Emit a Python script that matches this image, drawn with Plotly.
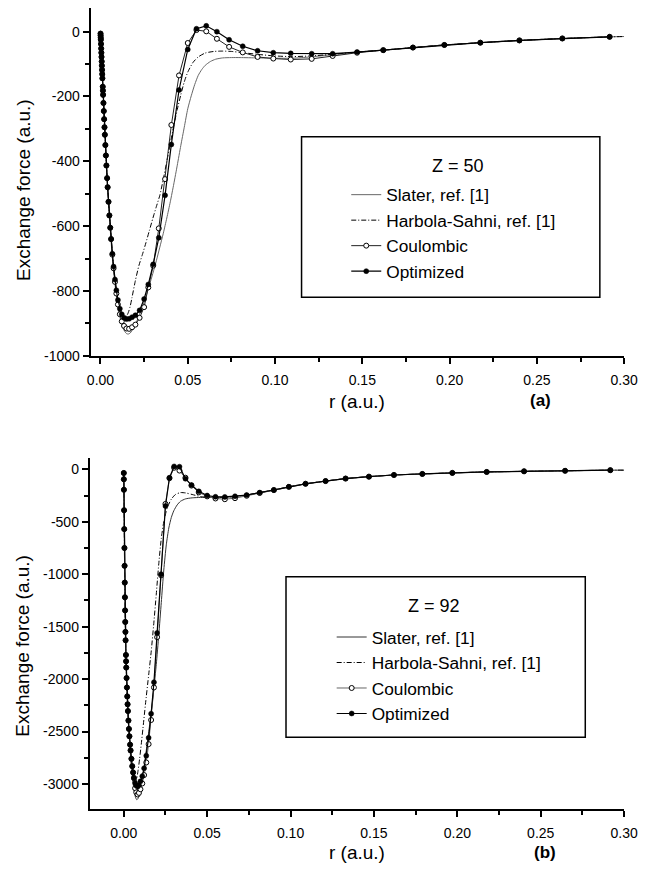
import plotly.graph_objects as go

# ---------------- data: Z = 50 (panel a) ----------------
r50_slater = [0.0, 0.0005, 0.001, 0.0015, 0.002, 0.003, 0.004, 0.005, 0.006, 0.007, 0.008, 0.009,
              0.010, 0.011, 0.012, 0.013, 0.014, 0.015, 0.016, 0.017, 0.018, 0.019, 0.020, 0.022,
              0.024, 0.026, 0.028, 0.030, 0.032, 0.034, 0.036, 0.038, 0.040, 0.042, 0.044, 0.046,
              0.048, 0.050, 0.052, 0.054, 0.056, 0.058, 0.060, 0.063, 0.066, 0.070, 0.075, 0.080,
              0.090, 0.100, 0.110, 0.120, 0.133, 0.147, 0.162, 0.179, 0.197, 0.218, 0.240, 0.265,
              0.292, 0.300]
f50_slater = [-5, -67, -132, -196, -258, -372, -475, -565, -642, -710, -765, -810,
              -848, -877, -900, -916, -926, -932, -933, -930, -923, -914, -903, -878,
              -850, -818, -783, -746, -707, -665, -622, -575, -525, -470, -412, -352,
              -295, -238, -198, -163, -135, -117, -104, -92, -85, -81, -80, -80,
              -81, -82, -82, -78, -71, -63, -57, -49, -41, -34, -27, -21,
              -16, -15]

r50_hs = [0.0, 0.0005, 0.001, 0.0015, 0.002, 0.003, 0.004, 0.005, 0.006, 0.007, 0.008, 0.009,
          0.010, 0.011, 0.012, 0.013, 0.014, 0.015, 0.016, 0.017, 0.018, 0.020, 0.022, 0.024,
          0.026, 0.028, 0.030, 0.032, 0.034, 0.036, 0.038, 0.040, 0.042, 0.044, 0.046, 0.048,
          0.050, 0.053, 0.056, 0.060, 0.065, 0.070, 0.075, 0.080, 0.090, 0.100, 0.110, 0.120,
          0.133, 0.147, 0.162, 0.179, 0.197, 0.218, 0.240, 0.265, 0.292, 0.300]
f50_hs = [-5, -67, -132, -195, -256, -368, -468, -555, -630, -695, -750, -795,
          -830, -855, -870, -878, -880, -877, -866, -848, -822, -768, -722, -688,
          -652, -614, -576, -540, -505, -455, -400, -345, -290, -240, -195, -155,
          -125, -95, -78, -66, -61, -60, -61, -64, -70, -75, -77, -75,
          -70, -63, -57, -49, -41, -34, -27, -21, -16, -15]

r50_grid = [0.00003, 0.00008, 0.00014, 0.0002, 0.0003, 0.0004, 0.0005, 0.0006, 0.0007, 0.0008,
            0.0009, 0.0010, 0.0011, 0.0013, 0.0014, 0.0015, 0.0017, 0.0019, 0.0021, 0.0023,
            0.0025, 0.0028, 0.0031, 0.0034, 0.0038, 0.0041, 0.0046, 0.0051, 0.0056, 0.0061,
            0.0068, 0.0075, 0.0083, 0.0091, 0.0100, 0.0111, 0.0122, 0.0135, 0.0149, 0.0164,
            0.0181, 0.0200, 0.0224, 0.0250, 0.0274, 0.0302, 0.0334, 0.0370, 0.0406, 0.0450,
            0.0500, 0.0550, 0.0606, 0.0667, 0.0737, 0.0815, 0.0900, 0.0990, 0.1090, 0.1210,
            0.1330, 0.1470, 0.1620, 0.1790, 0.1970, 0.2176, 0.2400, 0.2646, 0.2917]
f50_coul = [-6, -12, -19, -25, -38, -52, -65, -78, -92, -105,
            -118, -131, -144, -170, -182, -195, -220, -245, -270, -295,
            -318, -350, -382, -413, -452, -480, -525, -567, -605, -640,
            -688, -730, -772, -808, -842, -872, -894, -908, -916, -917,
            -912, -904, -883, -850, -789, -722, -607, -455, -288, -135,
            -35, 5, 1, -22, -47, -64, -78, -83, -86, -84,
            -75, -65, -57, -49, -41, -34, -27, -21, -16]
f50_opt = [-6, -12, -19, -25, -38, -52, -65, -78, -92, -105,
           -118, -131, -144, -170, -182, -195, -220, -245, -270, -295,
           -318, -350, -382, -413, -452, -480, -525, -567, -605, -640,
           -685, -725, -765, -798, -828, -855, -872, -883, -887, -886,
           -881, -875, -860, -825, -780, -718, -636, -505, -348, -180,
           -55, 9, 18, 0, -25, -45, -59, -65, -67, -68,
           -68, -63, -57, -49, -41, -34, -27, -21, -16]

# ---------------- data: Z = 92 (panel b) ----------------
r92_slater = [0.0, 0.0005, 0.001, 0.0015, 0.002, 0.003, 0.004, 0.005, 0.006, 0.007, 0.0078, 0.0085,
              0.0095, 0.0105, 0.0115, 0.0125, 0.0135, 0.015, 0.0165, 0.018, 0.0195, 0.021, 0.0225,
              0.024, 0.0255, 0.027, 0.0285, 0.030, 0.032, 0.034, 0.037, 0.041, 0.046, 0.052,
              0.0606, 0.0667, 0.0737, 0.0815, 0.0900, 0.0990, 0.1090, 0.1210, 0.1330, 0.1470,
              0.1620, 0.1790, 0.1970, 0.2176, 0.2400, 0.2646, 0.2917, 0.300]
f92_slater = [-30, -940, -1590, -1930, -2170, -2480, -2720, -2900, -3040, -3125, -3150, -3140,
              -3090, -3010, -2910, -2800, -2680, -2500, -2310, -2100, -1860, -1580, -1270,
              -960, -720, -560, -460, -395, -340, -305, -282, -272, -268, -268,
              -266, -260, -245, -222, -197, -167, -138, -112, -88, -70,
              -54, -44, -34, -25, -19, -14, -8, -8]

r92_hs = [0.0, 0.0005, 0.001, 0.0015, 0.002, 0.003, 0.004, 0.005, 0.006, 0.0067, 0.0075, 0.0085,
          0.0095, 0.0105, 0.0115, 0.013, 0.015, 0.0165, 0.018, 0.0195, 0.021, 0.0225, 0.024,
          0.026, 0.0285, 0.031, 0.034, 0.037, 0.041, 0.046, 0.052, 0.0606, 0.0667, 0.0737,
          0.0815, 0.0900, 0.0990, 0.1090, 0.1210, 0.1330, 0.1470, 0.1620, 0.1790, 0.1970,
          0.2176, 0.2400, 0.2646, 0.2917, 0.300]
f92_hs = [-30, -930, -1560, -1900, -2140, -2460, -2700, -2870, -2965, -2990, -2970, -2880,
          -2760, -2620, -2470, -2240, -1950, -1730, -1470, -1190, -900, -660, -500,
          -370, -285, -240, -222, -225, -240, -260, -268, -266, -260, -245,
          -222, -197, -167, -138, -112, -88, -70, -54, -44, -34,
          -25, -19, -14, -8, -8]

r92_grid = [0.00002, 0.00005, 0.0001, 0.0002, 0.0003, 0.0004, 0.0005, 0.0006, 0.0007, 0.0008,
            0.0009, 0.0010, 0.0011, 0.0013, 0.0014, 0.0015, 0.0017, 0.0019, 0.0021, 0.0023,
            0.0025, 0.0028, 0.0031, 0.0034, 0.0038, 0.0041, 0.0046, 0.0051, 0.0056, 0.0061,
            0.0068, 0.0075, 0.0083, 0.0091, 0.0100, 0.0111, 0.0122, 0.0135, 0.0149, 0.0164,
            0.0181, 0.0200, 0.0224, 0.0250, 0.0274, 0.0302, 0.0334, 0.0370, 0.0406, 0.0450,
            0.0500, 0.0550, 0.0606, 0.0667, 0.0737, 0.0815, 0.0900, 0.0990, 0.1090, 0.1210,
            0.1330, 0.1470, 0.1620, 0.1790, 0.1970, 0.2176, 0.2400, 0.2646, 0.2917]
f92_coul = [-35, -95, -195, -390, -570, -750, -920, -1080, -1220, -1345,
            -1455, -1550, -1630, -1770, -1830, -1890, -1990, -2080, -2165, -2240,
            -2305, -2395, -2475, -2545, -2625, -2680, -2760, -2830, -2890, -2945,
            -3040, -3080, -3100, -3085, -3050, -2995, -2915, -2795, -2620, -2390,
            -2080, -1600, -1010, -330, -85, 15, -12, -80, -155, -220,
            -258, -278, -285, -275, -252, -226, -198, -167, -138, -112,
            -88, -70, -54, -44, -34, -25, -19, -14, -8]
f92_opt = [-35, -95, -195, -390, -570, -750, -920, -1080, -1220, -1345,
           -1455, -1550, -1630, -1770, -1830, -1890, -1990, -2080, -2165, -2240,
           -2305, -2395, -2475, -2545, -2625, -2680, -2760, -2830, -2890, -2940,
           -2990, -3015, -3025, -3010, -2975, -2925, -2850, -2730, -2560, -2330,
           -2030, -1560, -1000, -350, -80, 28, 25, -90, -150, -210,
           -250, -262, -263, -257, -245, -222, -197, -167, -138, -112,
           -88, -70, -54, -44, -34, -25, -19, -14, -8]

# ---------------- ticks / labels ----------------
x_tickvals = [0.00, 0.05, 0.10, 0.15, 0.20, 0.25, 0.30]
x_ticktext = ["0.00", "0.05", "0.10", "0.15", "0.20", "0.25", "0.30"]
x_minor_a = [0.025, 0.075, 0.125, 0.175, 0.225, 0.275]
x_minor_b = [0.025, 0.075, 0.125, 0.175, 0.225, 0.275]
y_tickvals_a = [0, -200, -400, -600, -800, -1000]
y_ticktext_a = ["0", "-200", "-400", "-600", "-800", "-1000"]
y_minor_a = [-100, -300, -500, -700, -900]
y_tickvals_b = [0, -500, -1000, -1500, -2000, -2500, -3000]
y_ticktext_b = ["0", "-500", "-1000", "-1500", "-2000", "-2500", "-3000"]
y_minor_b = [-250, -750, -1250, -1750, -2250, -2750, -3250]

names = ["Slater, ref. [1]", "Harbola-Sahni, ref. [1]", "Coulombic", "Optimized"]

# The page body has an 8 px margin on every side and the plot fills the body
# width, so the drawing area is 635 x 861 px starting at page (8, 8).
OFF = 8
W, H = 651 - 2 * OFF, 877 - 2 * OFF
FONT = "Liberation Sans, Arial, sans-serif"


def px(x):
    return (x - OFF) / W


def py(y):
    return 1 - (y - OFF) / H


fig = go.Figure()


def add_panel(xa, ya, leg, rs, fs, rh, fh, rg, fc, fo, slater_col, coul_col):
    fig.add_trace(go.Scatter(x=rs, y=fs, mode="lines", name=names[0], xaxis=xa, yaxis=ya,
                             legend=leg, line=dict(color=slater_col, width=1, shape="spline",
                                                   smoothing=0.6)))
    fig.add_trace(go.Scatter(x=rh, y=fh, mode="lines", name=names[1], xaxis=xa, yaxis=ya,
                             legend=leg, line=dict(color="black", width=1, dash="5px,2px,1px,2px",
                                                   shape="spline", smoothing=0.6)))
    fig.add_trace(go.Scatter(x=rg, y=fc, mode="lines+markers", name=names[2], xaxis=xa, yaxis=ya,
                             legend=leg, line=dict(color=coul_col, width=1),
                             marker=dict(symbol="circle", size=5, color="white",
                                         line=dict(color="black", width=1))))
    fig.add_trace(go.Scatter(x=rg, y=fo, mode="lines+markers", name=names[3], xaxis=xa, yaxis=ya,
                             legend=leg, line=dict(color="black", width=1.2),
                             marker=dict(symbol="circle", size=5, color="black",
                                         line=dict(color="black", width=0.5))))


add_panel("x", "y", "legend", r50_slater, f50_slater, r50_hs, f50_hs, r50_grid, f50_coul, f50_opt,
          "#666666", "#222222")
add_panel("x2", "y2", "legend2", r92_slater, f92_slater, r92_hs, f92_hs, r92_grid, f92_coul, f92_opt,
          "#333333", "#666666")

axis_common = dict(showgrid=False, zeroline=False, showline=True, linecolor="black", linewidth=2,
                   ticks="outside", ticklen=6, tickwidth=1.5, tickcolor="black", mirror=False,
                   tickmode="array")
minor_common = dict(tickmode="array", ticks="outside", ticklen=4, tickwidth=1.5, tickcolor="black")
xfont = dict(family=FONT, size=14, color="black")
yfont = dict(family=FONT, size=14, color="black")

fig.update_layout(
    width=W, height=H, margin=dict(l=0, r=0, t=0, b=0),
    paper_bgcolor="white", plot_bgcolor="white",
    font=dict(family=FONT, color="black"),
    xaxis=dict(domain=[px(89), px(638)], range=[-0.0056, 0.30], anchor="y",
               tickvals=x_tickvals, ticktext=x_ticktext, ticklabelstandoff=4,
               ticklabeloverflow="allow", tickfont=xfont,
               minor=dict(tickvals=x_minor_a, **minor_common), **axis_common),
    yaxis=dict(domain=[py(359), 1.0], range=[-1000, 73], anchor="x",
               tickvals=y_tickvals_a, ticktext=y_ticktext_a, tickfont=yfont,
               minor=dict(tickvals=y_minor_a, **minor_common), **axis_common),
    xaxis2=dict(domain=[px(88), px(638)], range=[-0.0204, 0.30], anchor="y2",
                tickvals=x_tickvals, ticktext=x_ticktext, ticklabelstandoff=4,
                ticklabeloverflow="allow", tickfont=xfont,
                minor=dict(tickvals=x_minor_b, **minor_common), **axis_common),
    yaxis2=dict(domain=[py(817), py(462)], range=[-3243, 110], anchor="x2",
                tickvals=y_tickvals_b, ticktext=y_ticktext_b, tickfont=yfont,
                minor=dict(tickvals=y_minor_b, **minor_common), **axis_common),
    legend=dict(x=px(392 - 40), y=py(193 - 14.5), xanchor="left", yanchor="top",
                bgcolor="rgba(0,0,0,0)", borderwidth=0,
                font=dict(family=FONT, size=17.3, color="black"),
                itemclick=False, itemdoubleclick=False),
    legend2=dict(x=px(377 - 40), y=py(638 - 13), xanchor="left", yanchor="top",
                 bgcolor="rgba(0,0,0,0)", borderwidth=0,
                 font=dict(family=FONT, size=17.3, color="black"),
                 itemclick=False, itemdoubleclick=False),
    showlegend=True,
)

# legend frames
fig.add_shape(type="rect", xref="paper", yref="paper", x0=px(306), x1=px(613), y0=py(300), y1=py(138),
              line=dict(color="black", width=1.5), fillcolor="rgba(0,0,0,0)", layer="above")
fig.add_shape(type="rect", xref="paper", yref="paper", x0=px(290), x1=px(598), y0=py(744), y1=py(582),
              line=dict(color="black", width=1.5), fillcolor="rgba(0,0,0,0)", layer="above")

ann = [
    dict(text="Z = 50", x=px(467), y=py(167), size=18, angle=0),
    dict(text="Z = 92", x=px(442), y=py(612), size=18, angle=0),
    dict(text="Exchange force (a.u.)", x=px(20), y=py(192), size=19, angle=-90),
    dict(text="Exchange force (a.u.)", x=px(18), y=py(652), size=19, angle=-90),
    dict(text="r (a.u.)", x=px(363), y=py(405), size=19, angle=0),
    dict(text="r (a.u.)", x=px(363), y=py(860), size=19, angle=0),
    dict(text="<b>(a)</b>", x=px(552), y=py(404), size=17, angle=0),
    dict(text="<b>(b)</b>", x=px(557), y=py(860), size=17, angle=0),
]
for a in ann:
    fig.add_annotation(text=a["text"], x=a["x"], y=a["y"], xref="paper", yref="paper",
                       xanchor="center", yanchor="middle", showarrow=False, textangle=a["angle"],
                       font=dict(family=FONT, size=a["size"], color="black"))

fig.write_html("out.html")
